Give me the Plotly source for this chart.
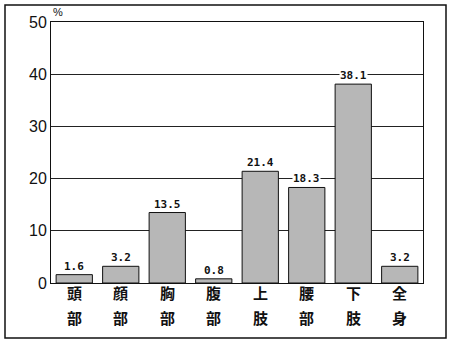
import plotly.graph_objects as go

categories = ["頭部", "顔部", "胸部", "腹部", "上肢", "腰部", "下肢", "全身"]
values = [1.6, 3.2, 13.5, 0.8, 21.4, 18.3, 38.1, 3.2]
value_labels = ["1.6", "3.2", "13.5", "0.8", "21.4", "18.3", "38.1", "3.2"]
y_ticks = [0, 10, 20, 30, 40, 50]

W, H = 450, 342
L, R, T, B = 51, 27, 22, 59
pw, ph = W - L - R, H - T - B

fig = go.Figure()
fig.add_trace(go.Bar(
    x=categories, y=values,
    marker=dict(
        color="#c0c0c0",
        line=dict(color="#111", width=1),
        pattern=dict(shape=".", fgcolor="#555555", bgcolor="#d2d2d2", size=2, solidity=0.5),
    ),
    width=0.78,
    hoverinfo="skip",
))

annotations = []
for c, v, t in zip(categories, values, value_labels):
    annotations.append(dict(
        x=c, y=v, xref="x", yref="y", text="<b>" + t + "</b>", showarrow=False,
        yanchor="bottom", yshift=1, bgcolor="white", borderpad=0,
        font=dict(family="DejaVu Sans Mono, monospace", size=11, color="#111"),
    ))
    for i, ch in enumerate(c):
        annotations.append(dict(
            x=c, xref="x", y=(-9 - 25 * i) / ph, yref="paper", text="<b>" + ch + "</b>",
            showarrow=False, yanchor="middle",
            font=dict(family="Noto Sans CJK JP", size=15, color="#111"),
        ))
annotations.append(dict(
    x=0.0, xref="paper", y=(283 - 12) / ph, yref="paper", text="%",
    showarrow=False, xanchor="left", yanchor="middle",
    font=dict(family="Liberation Sans, Arial", size=11, color="#111"),
))

fig.update_layout(
    width=W, height=H,
    margin=dict(l=L, r=R, t=T, b=B),
    paper_bgcolor="white", plot_bgcolor="white",
    showlegend=False,
    bargap=0.22,
    annotations=annotations,
    xaxis=dict(showticklabels=False, showgrid=False, showline=True, linecolor="#111",
               linewidth=1, mirror=True, ticks="", fixedrange=True),
    yaxis=dict(range=[0, 50], tickvals=y_ticks, showgrid=True, gridcolor="#222",
               gridwidth=1, showline=True, linecolor="#111", linewidth=1, mirror=True,
               ticks="", zeroline=False,
               tickfont=dict(family="Liberation Sans, Arial", size=16, color="#111")),
    shapes=[dict(type="rect", xref="paper", yref="paper",
                 x0=(5 - L) / pw, x1=(446 - L) / pw,
                 y0=(283 - 338) / ph, y1=(283 - 5) / ph,
                 line=dict(color="#111", width=1.5), layer="below")],
)

fig.write_html("out.html")
